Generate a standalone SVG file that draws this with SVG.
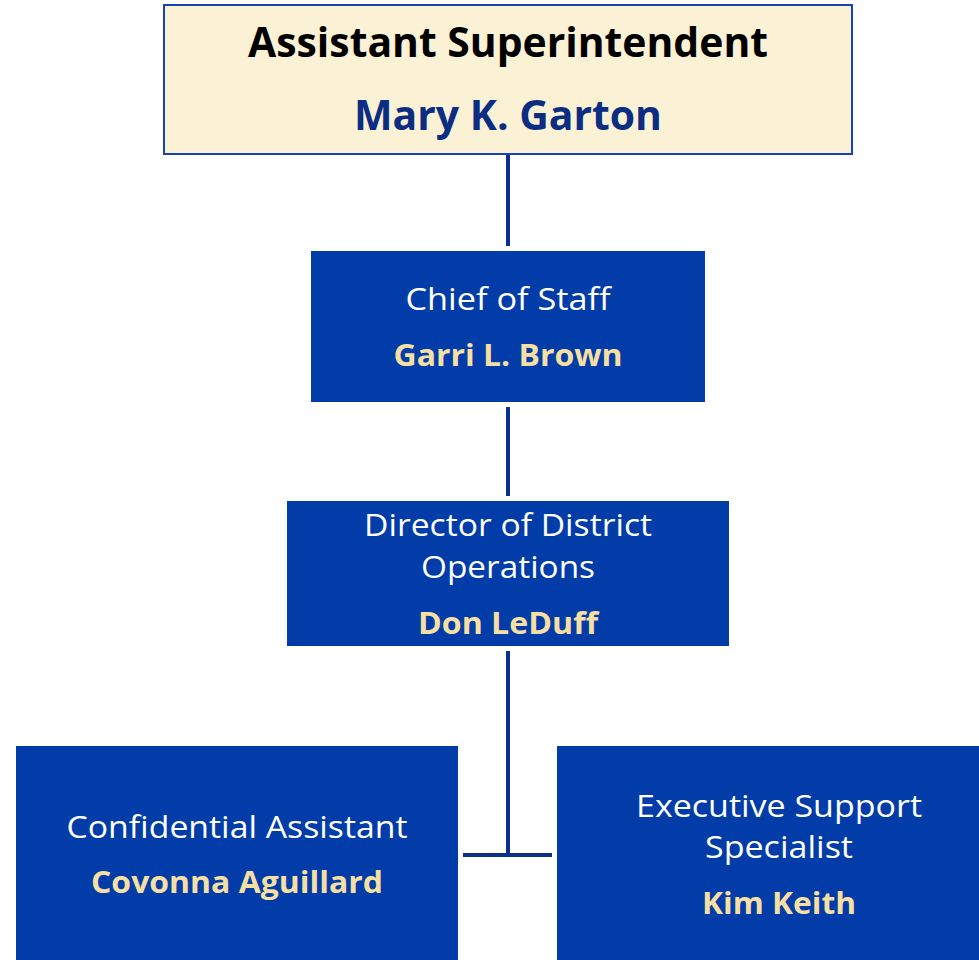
<svg xmlns="http://www.w3.org/2000/svg" width="979" height="960" viewBox="0 0 979 960">
<style>
.box{fill:#013CA8;}
.top{fill:#FBF1D4;stroke:#1743B0;stroke-width:2;}
.conn{stroke:#0B2F8E;stroke-width:4;fill:none;}
text{font-family:"Open Sans","Noto Sans",sans-serif;text-anchor:middle;}
.role{fill:#FFFFFF;font-size:31px;}
.name{fill:#F6DFA2;font-size:31px;font-weight:bold;}
.ttl{fill:#000000;font-size:41px;font-weight:bold;}
.tname{fill:#0B2D82;font-size:41px;font-weight:bold;}
</style>
<rect width="979" height="960" fill="#FFFFFF"/>
<g id="connectors">
<line class="conn" x1="508" y1="154" x2="508" y2="246"/>
<line class="conn" x1="508" y1="407" x2="508" y2="496"/>
<line class="conn" x1="508" y1="651" x2="508" y2="855"/>
<line class="conn" x1="463" y1="855" x2="552" y2="855"/>
</g>
<g id="node-assistant-superintendent">
<rect class="top" x="164" y="5" width="688" height="149"/>
<text class="ttl" x="508" y="57" textLength="520" lengthAdjust="spacingAndGlyphs">Assistant Superintendent</text>
<text class="tname" x="508" y="130" textLength="308" lengthAdjust="spacingAndGlyphs">Mary K. Garton</text>
</g>
<g id="node-chief-of-staff">
<rect class="box" x="311" y="251" width="394" height="151"/>
<text class="role" x="508" y="310" textLength="205" lengthAdjust="spacingAndGlyphs">Chief of Staff</text>
<text class="name" x="508" y="366" textLength="229" lengthAdjust="spacingAndGlyphs">Garri L. Brown</text>
</g>
<g id="node-director">
<rect class="box" x="287" y="501" width="442" height="145"/>
<text class="role" x="508" y="536" textLength="288" lengthAdjust="spacingAndGlyphs">Director of District</text>
<text class="role" x="508" y="578" textLength="174" lengthAdjust="spacingAndGlyphs">Operations</text>
<text class="name" x="508" y="634" textLength="180" lengthAdjust="spacingAndGlyphs">Don LeDuff</text>
</g>
<g id="node-confidential-assistant">
<rect class="box" x="16" y="746" width="442" height="214"/>
<text class="role" x="237" y="838" textLength="341" lengthAdjust="spacingAndGlyphs">Confidential Assistant</text>
<text class="name" x="237" y="893" textLength="292" lengthAdjust="spacingAndGlyphs">Covonna Aguillard</text>
</g>
<g id="node-executive-support">
<rect class="box" x="557" y="746" width="422" height="214"/>
<text class="role" x="779" y="817" textLength="286" lengthAdjust="spacingAndGlyphs">Executive Support</text>
<text class="role" x="779" y="858" textLength="148" lengthAdjust="spacingAndGlyphs">Specialist</text>
<text class="name" x="779" y="914" textLength="154" lengthAdjust="spacingAndGlyphs">Kim Keith</text>
</g>
</svg>
